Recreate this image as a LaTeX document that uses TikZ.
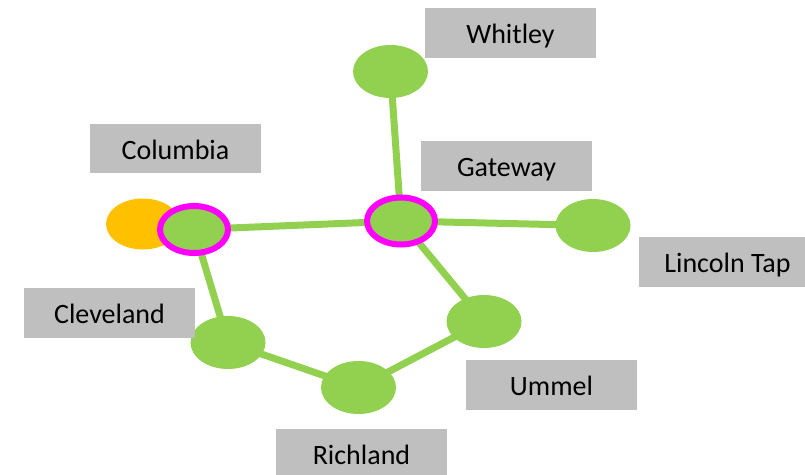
\documentclass[tikz,border=0pt]{standalone}
\usepackage{fontspec}
\setmainfont{Carlito}
\usetikzlibrary{shapes.geometric}
\definecolor{sgreen}{HTML}{92D050}
\definecolor{sorange}{HTML}{FFC000}
\definecolor{smag}{HTML}{FF00FF}
\definecolor{sgray}{HTML}{BFBFBF}
\tikzset{
  stn/.style={ellipse, fill=sgreen, minimum width=75pt, minimum height=53pt, inner sep=0pt},
  hub/.style={ellipse, fill=sgreen, draw=smag, line width=6pt, minimum width=68pt, minimum height=47pt, inner sep=0pt},
  orng/.style={ellipse, fill=sorange, minimum width=74pt, minimum height=51pt, inner sep=0pt},
  lbl/.style={rectangle, fill=sgray, minimum width=171pt, minimum height=49.5pt, inner sep=0pt, text height=21.3pt, text depth=0pt, font=\fontsize{28pt}{30pt}\selectfont, text=black},
  link/.style={draw=sgreen, line width=7pt}
}
\begin{document}
\begin{tikzpicture}[x=1pt,y=-1pt]
\useasboundingbox (0,0) rectangle (805,474);
% coordinates of stations
\coordinate (pW) at (390.5,71.5);
\coordinate (pG) at (401,221);
\coordinate (pC) at (194,229.5);
\coordinate (pL) at (593,225.5);
\coordinate (pU) at (484,321.5);
\coordinate (pV) at (228,342.5);
\coordinate (pR) at (358.5,387.5);
% edges
\draw[link] (pW) -- (pG);
\draw[link] (pC) -- (pG);
\draw[link] (pG) -- (pL);
\draw[link] (pG) -- (pU);
\draw[link] (pC) -- (pV);
\draw[link] (pV) -- (pR);
\draw[link] (pR) -- (pU);
% nodes
\node[orng] (orange) at (143,224) {};
\node[stn] (whitley) at (pW) {};
\node[hub] (gateway) at (pG) {};
\node[hub] (columbia) at (pC) {};
\node[stn] (lincoln) at (pL) {};
\node[stn] (ummel) at (pU) {};
\node[stn] (cleveland) at (pV) {};
\node[stn] (richland) at (pR) {};
% labels
\node[lbl] (tW) at (510.5,33) {Whitley};
\node[lbl] (tC) at (175.5,148.5) {Columbia};
\node[lbl] (tG) at (506.5,166) {Gateway};
\node[lbl, minimum width=177pt] (tL) at (727.5,262) {Lincoln Tap};
\node[lbl] (tV) at (109.5,313) {Cleveland};
\node[lbl] (tU) at (551.5,385) {Ummel};
\node[lbl] (tR) at (361.5,454) {Richland};
\end{tikzpicture}
\end{document}
